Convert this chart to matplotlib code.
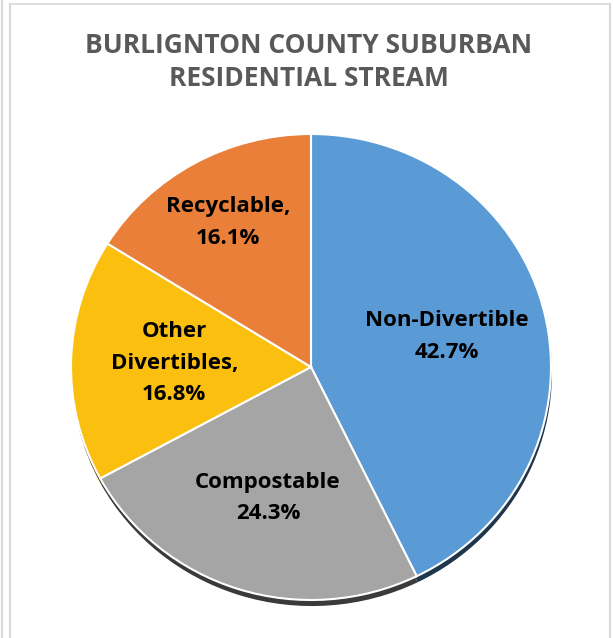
import numpy as np
import matplotlib
matplotlib.use("Agg")
import matplotlib.pyplot as plt
from matplotlib.colors import to_rgb

# Data
categories = ["Non-Divertible", "Compostable", "Other\nDivertibles,", "Recyclable,"]
shares = [42.7, 24.3, 16.8, 16.1]
colors = ["#5B9BD5", "#A5A5A5", "#FBBF10", "#E97F38"]
title = "BURLIGNTON COUNTY SUBURBAN\nRESIDENTIAL STREAM"

# Radial placement of each label (fraction of radius)
label_r = [0.58, 0.59, 0.57, 0.71]

FONT = "Open Sans"
W, H = 613, 638
fig = plt.figure(figsize=(W / 100, H / 100), dpi=100)
fig.patch.set_facecolor("white")

# Chart frame
frame = fig.add_axes([0, 0, 1, 1])
frame.set_xlim(0, W)
frame.set_ylim(H, 0)
frame.axis("off")
frame.plot([1.5, 1.5], [0, H], color="#D9D9D9", lw=1.5)
frame.plot([10, 10], [4, H], color="#D9D9D9", lw=1.5)
frame.plot([10, 609.5], [4, 4], color="#D9D9D9", lw=1.2)
frame.plot([609.5, 609.5], [4, H], color="#D9D9D9", lw=1.5)

frame.text(309, 62, title, ha="center", va="center", fontsize=19,
           fontweight="bold", color="#595959", family=FONT,
           linespacing=1.32)

# Pie axes (slightly flattened ellipse)
left, right, top, bottom = 71, 551, 134, 600
ax = fig.add_axes([left / W, (H - bottom) / H, (right - left) / W, (bottom - top) / H])
ax.axis("off")


def darker(c, f=0.35):
    r, g, b = to_rgb(c)
    return (r * f, g * f, b * f)


# Drop shadow beneath the pie
ax.pie(shares, colors=[darker(c) for c in colors], startangle=90,
       counterclock=False, radius=1.0, center=(0.004, -0.026),
       wedgeprops=dict(linewidth=0), frame=False)

wedges, _ = ax.pie(shares, colors=colors, startangle=90, counterclock=False,
                   radius=1.0,
                   wedgeprops=dict(edgecolor="white", linewidth=1.5),
                   frame=False)
ax.set_xlim(-1, 1)
ax.set_ylim(-1, 1)
ax.set_aspect("auto")

for w, name, val, r in zip(wedges, categories, shares, label_r):
    ang = np.deg2rad((w.theta1 + w.theta2) / 2)
    x, y = r * np.cos(ang), r * np.sin(ang)
    ax.text(x, y, f"{name}\n{val:.1f}%", ha="center", va="center",
            fontsize=16, fontweight="bold", color="black", family=FONT,
            linespacing=1.65)

fig.savefig("out.png", dpi=100, facecolor="white")
